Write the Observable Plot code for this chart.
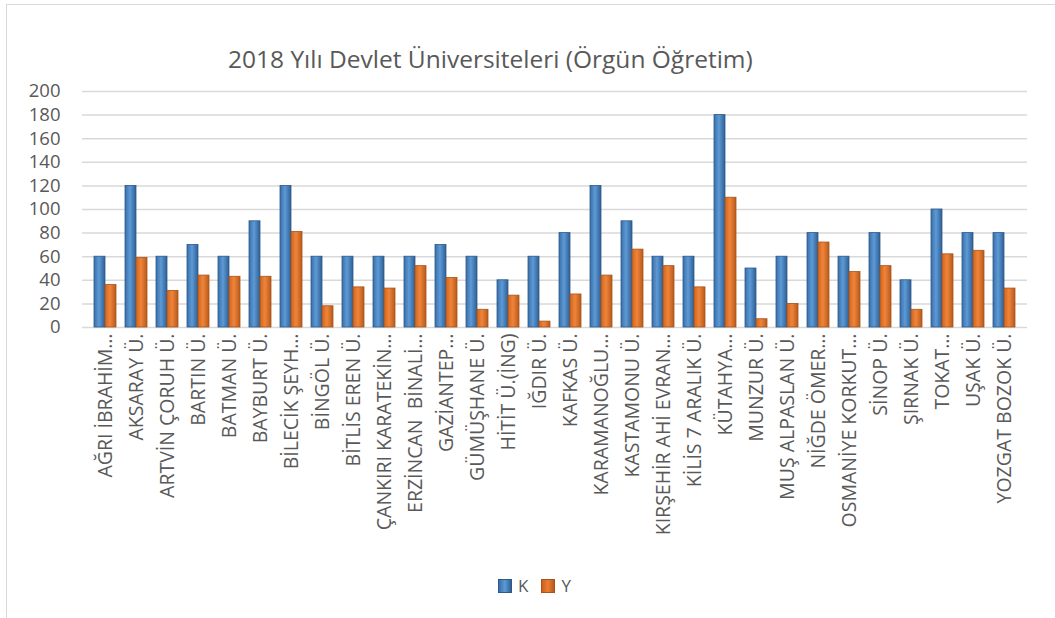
<!DOCTYPE html>
<html>
<head>
<meta charset="utf-8">
<script src="https://cdn.jsdelivr.net/npm/d3@7"></script>
<script src="https://cdn.jsdelivr.net/npm/@observablehq/plot@0.6"></script>
<style>
  html, body { margin: 0; padding: 0; background: #fff; }
  #wrap { position: relative; width: 1055px; height: 618px; overflow: hidden; font-family: "Open Sans", sans-serif; color: #595959; }
  #frame { position: absolute; left: 6px; top: 4px; width: 1100px; height: 700px; border: 1.5px solid #d9d9d9; box-sizing: border-box; }
  #title { position: absolute; left: 228px; top: 42px; font-size: 24.5px; white-space: nowrap; color: #595959; }
  #chart { position: absolute; left: 0; top: 0; }
  #legend { position: absolute; left: 498px; top: 574px; font-size: 17px; display: flex; align-items: center; }
  .sw { width: 14px; height: 14px; display: inline-block; margin-right: 6px; box-sizing: border-box; }
  .item { display: flex; align-items: center; margin-right: 13px; }
</style>
</head>
<body>
<div id="wrap">
  <div id="frame"></div>
  <div id="title">2018 Yılı Devlet Üniversiteleri (Örgün Öğretim)</div>
  <div id="chart"></div>
  <div id="legend">
    <span class="item"><span class="sw" style="background:linear-gradient(90deg,#3a6ea8,#5b9bd5 50%,#2f5f94);border:1px solid #2e5a8a"></span>K</span>
    <span class="item"><span class="sw" style="background:linear-gradient(90deg,#c8621f,#ed7d31 50%,#b65a1c);border:1px solid #a8541b"></span>Y</span>
  </div>
</div>
<script>
const universities = [
  "AĞRI İBRAHİM…", "AKSARAY Ü.", "ARTVİN ÇORUH Ü.", "BARTIN Ü.", "BATMAN Ü.",
  "BAYBURT Ü.", "BİLECİK ŞEYH…", "BİNGÖL Ü.", "BİTLİS EREN Ü.", "ÇANKIRI KARATEKİN…",
  "ERZİNCAN  BİNALİ…", "GAZİANTEP…", "GÜMÜŞHANE Ü.", "HİTİT Ü.(İNG)", "IĞDIR Ü.",
  "KAFKAS Ü.", "KARAMANOĞLU…", "KASTAMONU Ü.", "KIRŞEHİR AHİ EVRAN…", "KİLİS 7 ARALIK Ü.",
  "KÜTAHYA…", "MUNZUR Ü.", "MUŞ ALPASLAN Ü.", "NİĞDE ÖMER…", "OSMANİYE KORKUT…",
  "SİNOP Ü.", "ŞIRNAK Ü.", "TOKAT…", "UŞAK Ü.", "YOZGAT BOZOK Ü."
];
const valuesK = [60, 120, 60, 70, 60, 90, 120, 60, 60, 60, 60, 70, 60, 40, 60, 80, 120, 90, 60, 60, 180, 50, 60, 80, 60, 80, 40, 100, 80, 80];
const valuesY = [36, 59, 31, 44, 43, 43, 81, 18, 34, 33, 52, 42, 15, 27, 5, 28, 44, 66, 52, 34, 110, 7, 20, 72, 47, 52, 15, 62, 65, 33];
const yTicks = [0, 20, 40, 60, 80, 100, 120, 140, 160, 180, 200];

const rows = universities.map((u, i) => ({u, K: valuesK[i], Y: valuesY[i]}));

const plot = Plot.plot({
  width: 1055,
  height: 560,
  marginLeft: 82,
  marginRight: 28,
  marginTop: 91,
  marginBottom: 233,
  style: {fontFamily: "Open Sans, sans-serif", color: "#595959", background: "transparent", overflow: "visible"},
  x: {domain: universities, paddingInner: 0.3, paddingOuter: 0.15, label: null},
  y: {domain: [0, 200], ticks: yTicks, label: null},
  marks: [
    Plot.gridY(yTicks, {stroke: "#d9d9d9", strokeOpacity: 1, strokeWidth: 1.5}),
    Plot.barY(rows, {x: "u", y: "K", insetRight: 11, fill: "url(#gBlue)", stroke: "#2e5a8a", strokeWidth: 0.8}),
    Plot.barY(rows, {x: "u", y: "Y", insetLeft: 11, fill: "url(#gOrange)", stroke: "#a8541b", strokeWidth: 0.8}),
    Plot.axisY({ticks: yTicks, tickSize: 0, tickPadding: 22, fontSize: 18.5, fill: "#595959"}),
    Plot.axisX({tickSize: 0, tickPadding: 6, tickRotate: -90, fontSize: 19.5, fill: "#595959"})
  ]
});

const svgNS = "http://www.w3.org/2000/svg";
const defs = document.createElementNS(svgNS, "defs");
defs.innerHTML = `
  <linearGradient id="gBlue" x1="0" x2="1" y1="0" y2="0">
    <stop offset="0" stop-color="#3a6ea8"/>
    <stop offset="0.45" stop-color="#5d9ad6"/>
    <stop offset="1" stop-color="#2f5f94"/>
  </linearGradient>
  <linearGradient id="gOrange" x1="0" x2="1" y1="0" y2="0">
    <stop offset="0" stop-color="#cf661f"/>
    <stop offset="0.45" stop-color="#f0843a"/>
    <stop offset="1" stop-color="#b85a1b"/>
  </linearGradient>`;
plot.insertBefore(defs, plot.firstChild);
document.getElementById("chart").appendChild(plot);
</script>
</body>
</html>
